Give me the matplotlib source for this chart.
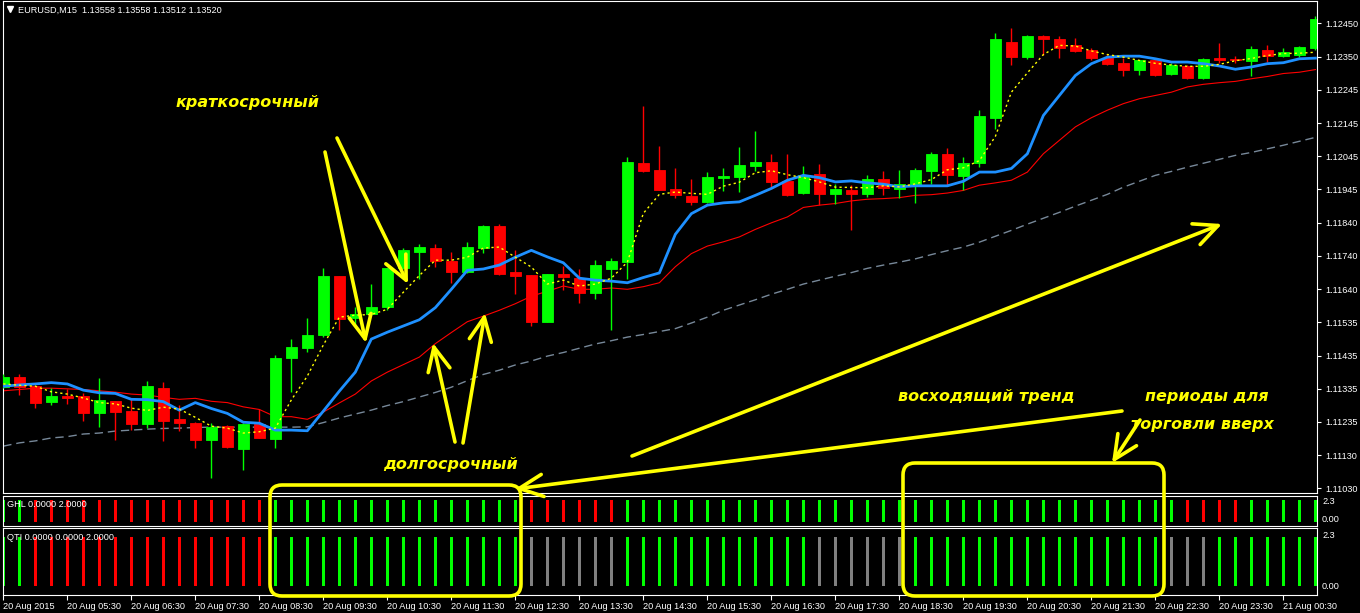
import matplotlib
matplotlib.use('Agg')
import matplotlib.pyplot as plt
from matplotlib.patches import FancyBboxPatch
import numpy as np

plt.rcParams['font.family'] = ['Liberation Sans', 'DejaVu Sans']

# ---------------- data ----------------
title = 'EURUSD,M15  1.13558 1.13558 1.13512 1.13520'

opens = [1.11340, 1.11369, 1.11342, 1.11295, 1.11312, 1.11312, 1.11261, 1.11297, 1.11266, 1.11228,
         1.11336, 1.11241, 1.11230, 1.11179, 1.11221, 1.11151, 1.11228, 1.11181, 1.11429, 1.11459,
         1.11498, 1.11678, 1.11551, 1.11564, 1.11584, 1.11702, 1.11752, 1.11764, 1.11724, 1.11691,
         1.11764, 1.11831, 1.11691, 1.11681, 1.11539, 1.11684, 1.11674, 1.11627, 1.11700, 1.11722,
         1.12023, 1.12001, 1.11943, 1.11924, 1.11905, 1.11977, 1.11980, 1.12014, 1.12026, 1.11968,
         1.11931, 1.11989, 1.11928, 1.11940, 1.11928, 1.11974, 1.11943, 1.11956, 1.11998, 1.12050,
         1.11983, 1.12024, 1.12161, 1.12392, 1.12346, 1.12413, 1.12401, 1.12383, 1.12368, 1.12343,
         1.12328, 1.12307, 1.12337, 1.12297, 1.12319, 1.12282, 1.12343, 1.12340, 1.12334, 1.12368,
         1.12349, 1.12355, 1.12374]
highs = [1.11379, 1.11379, 1.11345, 1.11338, 1.11334, 1.11321, 1.11367, 1.11298, 1.11307, 1.11359,
         1.11355, 1.11284, 1.11232, 1.11230, 1.11224, 1.11230, 1.11272, 1.11437, 1.11486, 1.11550,
         1.11702, 1.11680, 1.11584, 1.11654, 1.11704, 1.11763, 1.11775, 1.11777, 1.11752, 1.11782,
         1.11833, 1.11837, 1.11757, 1.11683, 1.11686, 1.11709, 1.11699, 1.11727, 1.11734, 1.12041,
         1.12197, 1.12075, 1.12008, 1.11974, 1.11995, 1.12008, 1.12072, 1.12120, 1.12050, 1.12050,
         1.12014, 1.12020, 1.11959, 1.11956, 1.11986, 1.11998, 1.12001, 1.12008, 1.12056, 1.12069,
         1.12041, 1.12185, 1.12420, 1.12435, 1.12415, 1.12415, 1.12413, 1.12404, 1.12374, 1.12358,
         1.12343, 1.12339, 1.12340, 1.12328, 1.12322, 1.12343, 1.12389, 1.12352, 1.12380, 1.12383,
         1.12374, 1.12380, 1.12474]
lows = [1.11338, 1.11316, 1.11276, 1.11284, 1.11288, 1.11236, 1.11218, 1.11178, 1.11208, 1.11213,
        1.11176, 1.11206, 1.11154, 1.11061, 1.11154, 1.11087, 1.11183, 1.11154, 1.11325, 1.11447,
        1.11493, 1.11513, 1.11529, 1.11559, 1.11574, 1.11700, 1.11669, 1.11706, 1.11658, 1.11689,
        1.11748, 1.11681, 1.11625, 1.11526, 1.11537, 1.11637, 1.11597, 1.11608, 1.11515, 1.11668,
        1.11996, 1.11940, 1.11917, 1.11895, 1.11903, 1.11938, 1.11934, 1.11998, 1.11951, 1.11922,
        1.11929, 1.11895, 1.11898, 1.11818, 1.11919, 1.11925, 1.11916, 1.11901, 1.11959, 1.11956,
        1.11940, 1.12012, 1.12128, 1.12323, 1.12340, 1.12353, 1.12344, 1.12363, 1.12337, 1.12323,
        1.12288, 1.12291, 1.12288, 1.12291, 1.12279, 1.12280, 1.12328, 1.12328, 1.12288, 1.12331,
        1.12346, 1.12346, 1.12368]
closes = [1.11371, 1.11340, 1.11291, 1.11312, 1.11307, 1.11261, 1.11300, 1.11264, 1.11228, 1.11342,
          1.11236, 1.11231, 1.11179, 1.11217, 1.11156, 1.11228, 1.11185, 1.11427, 1.11461, 1.11497,
          1.11678, 1.11547, 1.11564, 1.11583, 1.11702, 1.11757, 1.11767, 1.11724, 1.11691, 1.11767,
          1.11831, 1.11685, 1.11679, 1.11539, 1.11684, 1.11676, 1.11627, 1.11712, 1.11724, 1.12026,
          1.11998, 1.11941, 1.11925, 1.11905, 1.11980, 1.11983, 1.12017, 1.12026, 1.11965, 1.11925,
          1.11986, 1.11928, 1.11943, 1.11928, 1.11974, 1.11947, 1.11959, 1.12001, 1.12050, 1.11986,
          1.12023, 1.12166, 1.12401, 1.12346, 1.12413, 1.12401, 1.12374, 1.12365, 1.12343, 1.12325,
          1.12307, 1.12337, 1.12294, 1.12322, 1.12282, 1.12340, 1.12337, 1.12337, 1.12371, 1.12349,
          1.12362, 1.12377, 1.12462]

ma_fast = [1.11349, 1.11345, 1.11342, 1.11325, 1.11318, 1.11306, 1.11292, 1.11288, 1.11275, 1.11268,
           1.11278, 1.11272, 1.11247, 1.11220, 1.11214, 1.11199, 1.11203, 1.11214, 1.11300, 1.11373,
           1.11468, 1.11553, 1.11559, 1.11561, 1.11577, 1.11629, 1.11680, 1.11727, 1.11727, 1.11736,
           1.11764, 1.11767, 1.11736, 1.11706, 1.11654, 1.11666, 1.11648, 1.11654, 1.11672, 1.11721,
           1.11870, 1.11928, 1.11935, 1.11931, 1.11928, 1.11953, 1.11965, 1.11994, 1.12000, 1.11988,
           1.11979, 1.11966, 1.11950, 1.11949, 1.11948, 1.11954, 1.11951, 1.11960, 1.11973, 1.12003,
           1.12009, 1.12031, 1.12105, 1.12240, 1.12299, 1.12355, 1.12383, 1.12381, 1.12366, 1.12355,
           1.12347, 1.12337, 1.12328, 1.12323, 1.12319, 1.12319, 1.12325, 1.12336, 1.12343, 1.12352,
           1.12358, 1.12359, 1.12362]
ma_blue = [1.11342, 1.11346, 1.11349, 1.11353, 1.11349, 1.11330, 1.11322, 1.11320, 1.11302, 1.11301,
           1.11295, 1.11269, 1.11292, 1.11274, 1.11259, 1.11232, 1.11229, 1.11208, 1.11208, 1.11206,
           1.11266, 1.11327, 1.11385, 1.11486, 1.11507, 1.11526, 1.11545, 1.11582, 1.11638, 1.11696,
           1.11700, 1.11712, 1.11736, 1.11757, 1.11737, 1.11719, 1.11672, 1.11666, 1.11663, 1.11658,
           1.11674, 1.11688, 1.11806, 1.11869, 1.11895, 1.11902, 1.11905, 1.11925, 1.11946, 1.11971,
           1.11986, 1.11979, 1.11966, 1.11969, 1.11963, 1.11959, 1.11951, 1.11954, 1.11954, 1.11954,
           1.11968, 1.11996, 1.11996, 1.12007, 1.12052, 1.12169, 1.12230, 1.12291, 1.12327, 1.12347,
           1.12350, 1.12350, 1.12342, 1.12332, 1.12332, 1.12327, 1.12320, 1.12310, 1.12317, 1.12327,
           1.12330, 1.12342, 1.12344]
ma_red = [1.11328, 1.11332, 1.11336, 1.11336, 1.11334, 1.11332, 1.11328, 1.11324, 1.11318, 1.11315,
          1.11308, 1.11302, 1.11305, 1.11296, 1.11292, 1.11279, 1.11271, 1.11249, 1.11249, 1.11241,
          1.11263, 1.11291, 1.11318, 1.11358, 1.11385, 1.11408, 1.11431, 1.11472, 1.11506, 1.11539,
          1.11556, 1.11574, 1.11594, 1.11617, 1.11632, 1.11648, 1.11638, 1.11638, 1.11642, 1.11638,
          1.11646, 1.11658, 1.11707, 1.11747, 1.11770, 1.11783, 1.11798, 1.11821, 1.11841, 1.11859,
          1.11888, 1.11895, 1.11900, 1.11908, 1.11913, 1.11915, 1.11918, 1.11925, 1.11927, 1.11932,
          1.11940, 1.11956, 1.11963, 1.11971, 1.11996, 1.12052, 1.12093, 1.12134, 1.12162, 1.12185,
          1.12205, 1.12220, 1.12230, 1.12240, 1.12256, 1.12264, 1.12269, 1.12273, 1.12281, 1.12288,
          1.12297, 1.12301, 1.12309]
ma_slow = [1.11159, 1.11169, 1.11175, 1.11184, 1.11188, 1.11196, 1.11199, 1.11205, 1.11208, 1.11211,
           1.11213, 1.11214, 1.11216, 1.11217, 1.11217, 1.11217, 1.11217, 1.11217, 1.11217, 1.11218,
           1.11231, 1.11245, 1.11257, 1.11269, 1.11283, 1.11295, 1.11309, 1.11323, 1.11339, 1.11359,
           1.11378, 1.11391, 1.11407, 1.11419, 1.11434, 1.11445, 1.11458, 1.11471, 1.11481, 1.11492,
           1.11500, 1.11509, 1.11518, 1.11535, 1.11553, 1.11574, 1.11590, 1.11606, 1.11623, 1.11638,
           1.11654, 1.11666, 1.11678, 1.11689, 1.11702, 1.11712, 1.11721, 1.11731, 1.11744, 1.11756,
           1.11767, 1.11782, 1.11800, 1.11818, 1.11837, 1.11855, 1.11873, 1.11892, 1.11910, 1.11928,
           1.11950, 1.11968, 1.11986, 1.11998, 1.12011, 1.12023, 1.12035, 1.12047, 1.12056, 1.12067,
           1.12078, 1.12090, 1.12102]

# indicator states per bar: g = up (green), r = down (red), n = neutral (gray)
ghl_state = ("gg" + "rrrrrrrrrrrrrrr" + "gggggggggggggggg" + "rrrrrr"
             + "ggggggggggggggggggggggggggggggggggg" + "rrrr" + "ggggg")
qti_state = ("gg" + "rrrrrrrrrrrrrrr" + "gggggggggggggggg" + "nnnnnn"
             + "gggggggggggg" + "nnnnnn" + "gggggggggggggggg" + "nnn" + "ggggggg")
ghl_value = [2.0] * len(ghl_state)
qti_value = [2.0] * len(qti_state)

price_tick_labels = ['1.12450', '1.12350', '1.12245', '1.12145', '1.12045', '1.11945', '1.11840',
                     '1.11740', '1.11640', '1.11535', '1.11435', '1.11335', '1.11235', '1.11130', '1.11030']
time_tick_labels = ['20 Aug 2015', '20 Aug 05:30', '20 Aug 06:30', '20 Aug 07:30', '20 Aug 08:30',
                    '20 Aug 09:30', '20 Aug 10:30', '20 Aug 11:30', '20 Aug 12:30', '20 Aug 13:30',
                    '20 Aug 14:30', '20 Aug 15:30', '20 Aug 16:30', '20 Aug 17:30', '20 Aug 18:30',
                    '20 Aug 19:30', '20 Aug 20:30', '20 Aug 21:30', '20 Aug 22:30', '20 Aug 23:30',
                    '21 Aug 00:30']

# ---------------- styling ----------------
GREEN = '#00FF00'
RED = '#FF0000'
GRAYBAR = '#808080'
YEL = '#FFFF00'
BLUE = '#1E90FF'
SLATE = '#778899'
state_color = {'g': GREEN, 'r': RED, 'n': GRAYBAR}

W, H = 1360, 613
fig = plt.figure(figsize=(13.6, 6.13), dpi=100, facecolor='black')


def px_axes(x0, y0, x1, y1, z=1):
    a = fig.add_axes([x0 / W, 1 - y1 / H, (x1 - x0) / W, (y1 - y0) / H], zorder=z)
    a.set_facecolor('black')
    for s in a.spines.values():
        s.set_color('white')
        s.set_linewidth(0.8)
    return a


ax = px_axes(2.5, 0.5, 1317, 493.3)
ghl = px_axes(2.5, 495.7, 1317, 525.7)
qti = px_axes(2.5, 527.7, 1317, 594.7)

n = len(opens)
idx = np.arange(n)
XL = (-0.05, 82.1)

# ---- candles ----
for i in idx:
    o, h, l, c = opens[i], highs[i], lows[i], closes[i]
    col = GREEN if c >= o else RED
    ax.vlines(i, l, h, color=col, lw=1.0, zorder=3)
    ax.bar(i, c - o, bottom=o, width=0.69, color=col, edgecolor=col, linewidth=0.6, zorder=4)

# ---- moving averages ----
ax.plot(idx, ma_slow, color=SLATE, lw=1.0, dashes=(6, 3.5), zorder=2)
ax.plot(idx, ma_red, color=RED, lw=0.8, zorder=2)
ax.plot(idx, ma_blue, color=BLUE, lw=2.0, zorder=5)
ax.plot(idx, ma_fast, color=YEL, lw=1.0, dashes=(1.6, 2.2), zorder=5)

ax.set_xlim(*XL)
ax.set_ylim(1.11015, 1.12520)
ax.set_xticks([])
step = (1.12450 - 1.11030) / (len(price_tick_labels) - 1)
ax.set_yticks([1.12450 - k * step for k in range(len(price_tick_labels))])
ax.set_yticklabels(price_tick_labels)
ax.yaxis.tick_right()
ax.tick_params(axis='y', colors='white', labelsize=6.6, length=3, width=0.8, pad=3)

# ---- GHL panel ----
ghl.bar(idx, ghl_value, width=0.2, color=[state_color[s] for s in ghl_state], zorder=2)
ghl.set_xlim(*XL)
ghl.set_ylim(-0.37, 2.40)
ghl.set_xticks([])
ghl.set_yticks([])

# ---- QTI panel ----
qti.bar(idx, qti_value, width=0.2, color=[state_color[s] for s in qti_state], zorder=2)
qti.set_xlim(*XL)
qti.set_ylim(-0.353, 2.365)
qti.set_yticks([])
qti.set_xticks(idx[::4][:len(time_tick_labels)])
qti.set_xticklabels(time_tick_labels, ha='left')
qti.tick_params(axis='x', colors='white', labelsize=6.6, length=3.5, width=0.8, pad=1.5)

# ---------------- overlay in pixel coordinates ----------------
ov = fig.add_axes([0, 0, 1, 1], zorder=10)
ov.set_xlim(0, W)
ov.set_ylim(H, 0)
ov.axis('off')
ov.patch.set_alpha(0)

ov.plot(10, 9, marker='v', ms=4.5, color='white', mec='white')
ov.text(18, 10, title, color='white', fontsize=6.6, va='center', ha='left')
ov.text(7, 504.5, 'GHL 0.0000 2.0000', color='white', fontsize=6.6, va='center', ha='left')
ov.text(7, 537, 'QTI 0.0000 0.0000 2.0000', color='white', fontsize=6.6, va='center', ha='left')
for yy, s in [(502, '2.3'), (520, '0.00'), (535, '2.3'), (586.5, '0.00')]:
    ov.text(1322, yy, s, color='white', fontsize=6.6, va='center', ha='left')

# yellow annotations
tfont = dict(color=YEL, fontsize=11.5, fontweight='bold', fontstyle='italic',
             family=['DejaVu Sans'], va='center', ha='left')
ov.text(176, 102, 'краткосрочный', **tfont)
ov.text(383, 464, 'долгосрочный', **tfont)
ov.text(898, 397, 'восходящий тренд', **tfont)
ov.text(1145, 397, 'периоды для', **tfont)
ov.text(1131, 424, 'торговли вверх', **tfont)

arrows = [((325, 152), (366, 343)),
          ((337, 138), (408, 284)),
          ((455, 442), (433, 343)),
          ((463, 443), (485, 313)),
          ((632, 456), (1222, 224)),
          ((1122, 411), (515, 489)),
          ((1140, 420), (1112, 463))]
for (sx, sy), (tx, ty) in arrows:
    ov.annotate('', xy=(tx, ty), xytext=(sx, sy),
                arrowprops=dict(arrowstyle='->,head_length=0.85,head_width=0.4',
                                color=YEL, lw=2.6, mutation_scale=20,
                                shrinkA=0, shrinkB=0))

for (x0, y0, x1, y1) in [(270, 485, 521, 596), (903, 463, 1164, 596)]:
    ov.add_patch(FancyBboxPatch((x0, y0), x1 - x0, y1 - y0,
                                boxstyle='round,pad=0,rounding_size=12',
                                fill=False, edgecolor=YEL, lw=2.6))

fig.savefig('out.png', dpi=100, facecolor='black')
